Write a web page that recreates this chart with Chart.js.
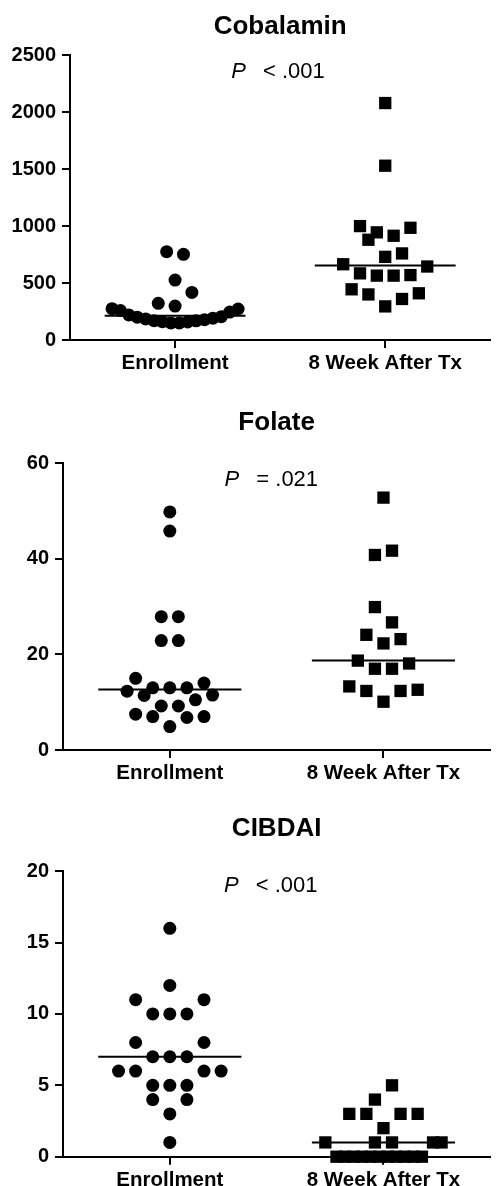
<!DOCTYPE html>
<html><head><meta charset="utf-8">
<script src="https://cdn.jsdelivr.net/npm/chart.js@4.4.0/dist/chart.umd.min.js"></script>
<style>
html,body{margin:0;padding:0;background:#fff;}
body{width:499px;height:1186px;position:relative;overflow:hidden;}
.panel{position:absolute;left:0;width:499px;}
canvas{display:block;}
</style></head><body>
<div class="panel" style="top:0;height:390px"><canvas id="c0" width="499" height="390"></canvas></div>
<div class="panel" style="top:400px;height:400px"><canvas id="c1" width="499" height="400"></canvas></div>
<div class="panel" style="top:800px;height:386px"><canvas id="c2" width="499" height="386"></canvas></div>
<script>
// ---------- data ----------
const categories = ['Enrollment', '8 Week After Tx'];
const panelTitles = ['Cobalamin', 'Folate', 'CIBDAI'];
const pValueTexts = ['< .001', '= .021', '< .001'];
const yMaxima = [2500, 60, 20];
const yStepSizes = [500, 20, 5];

// Cobalamin
const cobalaminEnrollment = [775, 752, 526, 418, 322, 298,
  275, 258, 220, 200, 185, 170, 160, 150, 150, 158, 168, 178, 192, 205, 245, 272];
const cobalaminEnrollmentSpread = [-1, 1, 0, 2, -2, 0,
  -7.5, -6.5, -5.5, -4.5, -3.5, -2.5, -1.5, -0.5, 0.5, 1.5, 2.5, 3.5, 4.5, 5.5, 6.5, 7.5];
const cobalaminWeek8 = [2080, 1530, 1000, 945, 880, 915, 985, 730, 760, 665, 645, 585, 565, 565, 570, 445, 400, 295, 360, 410];
const cobalaminWeek8Spread = [0, 0, -3, -1, -2, 1, 3, 0, 2, -5, 5, -3, -1, 1, 3, -4, -2, 0, 2, 4];

// Folate
const folateEnrollment = [49.8, 45.8, 27.9, 27.9, 22.9, 22.9, 15, 14, 13, 13, 13, 12.3, 11.4, 11.5, 10.5, 9.2, 9.2, 7.5, 7, 6.8, 7, 4.9];
const folateEnrollmentSpread = [0, 0, -1, 1, -1, 1, -4, 4, -2, 0, 2, -5, -3, 5, 3, -1, 1, -4, -2, 2, 4, 0];
const folateWeek8 = [52.8, 41.7, 40.8, 29.9, 26.7, 24.1, 23.2, 22.3, 18.7, 18.1, 17, 17, 13.3, 12.35, 12.35, 12.6, 10.1];
const folateWeek8Spread = [0, 1, -1, -1, 1, -2, 2, 0, -3, 3, -1, 1, -4, -2, 2, 4, 0];

// CIBDAI
const cibdaiEnrollment = [16, 12, 11, 11, 10, 10, 10, 8, 8, 7, 7, 7, 6, 6, 6, 6, 5, 5, 5, 4, 4, 3, 1];
const cibdaiEnrollmentSpread = [0, 0, -4, 4, -2, 0, 2, -4, 4, -2, 0, 2, -6, -4, 4, 6, -2, 0, 2, -2, 2, 0, 0];
const cibdaiWeek8 = [5, 4, 3, 3, 3, 3, 2, 1, 1, 1, 1, 1, 0, 0, 0, 0, 0, 0, 0, 0, 0, 0, 0];
const cibdaiWeek8Spread = [1, -1, -4, -2, 2, 4, 0, -6.8, -1, 1, 5.8, 6.8, -5.5, -4.5, -3.5, -2.5, -1.5, -0.5, 0.5, 1.5, 2.5, 3.5, 4.5];

// ---------- layout / style ----------
const FONT = '"Liberation Sans", Arial, Helvetica, sans-serif';
const SPREAD_UNIT = 0.04;      // horizontal spacing of a half symbol, in category units
const MEDIAN_HALF = 0.335;     // half-width of the median bar, in category units

const panels = [
  { enroll: cobalaminEnrollment, enrollSpread: cobalaminEnrollmentSpread, week: cobalaminWeek8, weekSpread: cobalaminWeek8Spread,
    yAxisWidth: 70, rightPad: 0, xAxisHeight: 50, titlePad: {top: 11, bottom: 13}, pPos: [0.49, 2350] },
  { enroll: folateEnrollment, enrollSpread: folateEnrollmentSpread, week: folateWeek8, weekSpread: folateWeek8Spread,
    yAxisWidth: 63, rightPad: 6, xAxisHeight: 50, titlePad: {top: 7, bottom: 25}, pPos: [0.475, 56.5] },
  { enroll: cibdaiEnrollment, enrollSpread: cibdaiEnrollmentSpread, week: cibdaiWeek8, weekSpread: cibdaiWeek8Spread,
    yAxisWidth: 63, rightPad: 6, xAxisHeight: 29.3, titlePad: {top: 13, bottom: 27}, pPos: [0.472, 19] }
];

function median(arr) {
  const s = [...arr].sort((a, b) => a - b);
  const n = s.length;
  return n % 2 ? s[(n - 1) / 2] : (s[n / 2 - 1] + s[n / 2]) / 2;
}
function toPoints(values, spread, cat) {
  return values.map((v, i) => ({ x: cat + spread[i] * SPREAD_UNIT, y: v }));
}

const pTextPlugin = {
  id: 'pText',
  afterDatasetsDraw(chart, args, opts) {
    const { ctx } = chart;
    const xs = chart.scales.x, ys = chart.scales.y;
    const cx = xs.getPixelForValue(opts.x), cy = ys.getPixelForValue(opts.y);
    ctx.save();
    ctx.fillStyle = '#000';
    ctx.textBaseline = 'middle';
    ctx.textAlign = 'left';
    const fI = 'italic 22px ' + FONT, fR = '22px ' + FONT;
    ctx.font = fI; const wP = ctx.measureText('P').width;
    const rest = '\u2002 ' + opts.text;
    ctx.font = fR; const wR = ctx.measureText(rest).width;
    const sx = cx - (wP + wR) / 2;
    ctx.font = fI; ctx.fillText('P', sx, cy);
    ctx.font = fR; ctx.fillText(rest, sx + wP, cy);
    ctx.restore();
  }
};

panels.forEach((p, k) => {
  const m0 = median(p.enroll), m1 = median(p.week);
  const axisGrid = { display: true, drawOnChartArea: false, drawTicks: true, tickLength: 8, color: '#000', lineWidth: 2 };
  const axisBorder = { display: true, color: '#000', width: 2 };
  new Chart(document.getElementById('c' + k), {
    type: 'scatter',
    data: {
      datasets: [
        { type: 'line', data: [{ x: -MEDIAN_HALF, y: m0 }, { x: MEDIAN_HALF, y: m0 }], borderColor: '#000', borderWidth: 2, pointRadius: 0, order: 2, clip: false },
        { type: 'line', data: [{ x: 1 - MEDIAN_HALF, y: m1 }, { x: 1 + MEDIAN_HALF, y: m1 }], borderColor: '#000', borderWidth: 2, pointRadius: 0, order: 2, clip: false },
        { data: toPoints(p.enroll, p.enrollSpread, 0), pointStyle: 'circle', pointRadius: 6.5, backgroundColor: '#000', borderColor: '#000', borderWidth: 0, order: 1, clip: false },
        { data: toPoints(p.week, p.weekSpread, 1), pointStyle: 'rect', pointRadius: 8.7, backgroundColor: '#000', borderColor: '#000', borderWidth: 0, order: 1, clip: false }
      ]
    },
    options: {
      responsive: false,
      animation: false,
      events: [],
      layout: { padding: { left: 0, right: p.rightPad, top: 0, bottom: 0 } },
      plugins: {
        legend: { display: false },
        tooltip: { enabled: false },
        title: { display: true, text: panelTitles[k], color: '#000', fullSize: false,
          font: { family: FONT, size: 26, weight: 'bold' }, padding: p.titlePad },
        pText: { x: p.pPos[0], y: p.pPos[1], text: pValueTexts[k] }
      },
      scales: {
        x: {
          type: 'linear', min: -0.5, max: 1.5,
          afterBuildTicks: s => { s.ticks = [{ value: 0 }, { value: 1 }]; },
          afterFit: s => { s.height = p.xAxisHeight; },
          ticks: { callback: v => categories[v], color: '#000', padding: 3, maxRotation: 0, autoSkip: false,
            font: { family: FONT, size: 20.5, weight: 'bold' } },
          grid: axisGrid, border: axisBorder
        },
        y: {
          min: 0, max: yMaxima[k],
          afterFit: s => { s.width = p.yAxisWidth; },
          ticks: { stepSize: yStepSizes[k], color: '#000', padding: 6, callback: v => String(v),
            font: { family: FONT, size: 20, weight: 'bold' } },
          grid: axisGrid, border: axisBorder
        }
      }
    },
    plugins: [pTextPlugin]
  });
});
</script>
</body></html>
